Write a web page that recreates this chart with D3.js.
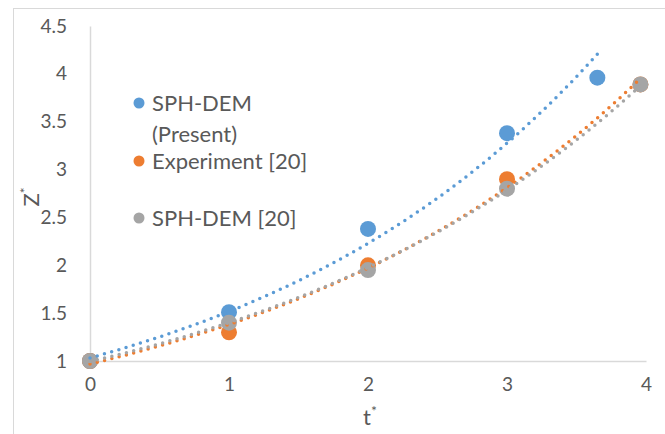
<!DOCTYPE html>
<html>
<head>
<meta charset="utf-8">
<script src="https://cdn.jsdelivr.net/npm/d3@7"></script>
<style>
  body { margin: 0; background: #fff; }
  text { font-family: Lato, "Open Sans", sans-serif; fill: #595959; }
</style>
</head>
<body>
<svg id="chart" width="665" height="434"></svg>
<script>
// series
const presentT = [0, 1, 2, 3, 3.65];
const presentZ = [1, 1.51, 2.38, 3.38, 3.96];
const experimentT = [0, 1, 2, 3, 3.96];
const experimentZ = [1, 1.3, 2.0, 2.9, 3.89];
const sphDem20T = [0, 1, 2, 3, 3.96];
const sphDem20Z = [1, 1.4, 1.95, 2.8, 3.89];

const xTicks = [0, 1, 2, 3, 4];
const yTicks = [1, 1.5, 2, 2.5, 3, 3.5, 4, 4.5];

const seriesNames = ["SPH-DEM (Present)", "Experiment [20]", "SPH-DEM [20]"];
const seriesColors = ["#5b9bd5", "#ed7d31", "#a5a5a5"];

let margin = {"left": 90, "top": 26, "bottom": 73, "right": 19};
let width = 665;
let height = 434;

let svg = d3.select("#chart");

// chart frame (runs off right and bottom)
svg.append("rect")
	.attr("x", 13.5).attr("y", 8.5)
	.attr("width", 700).attr("height", 500)
	.attr("fill", "none")
	.attr("stroke", "#d9d9d9");

let x = d3.scaleLinear()
	.domain([0, 4])
	.range([margin.left, width - margin.right]);
let y = d3.scaleLinear()
	.domain([1, 4.5])
	.range([height - margin.bottom, margin.top]);

let series = [
	{"name": seriesNames[0], "color": seriesColors[0], "points": presentT.map((t, i) => ({"t": t, "z": presentZ[i]}))},
	{"name": seriesNames[1], "color": seriesColors[1], "points": experimentT.map((t, i) => ({"t": t, "z": experimentZ[i]}))},
	{"name": seriesNames[2], "color": seriesColors[2], "points": sphDem20T.map((t, i) => ({"t": t, "z": sphDem20Z[i]}))}
];

// axes
svg.append("g")
	.attr("transform", `translate(${margin.left},0)`)
	.call(d3.axisLeft(y).tickValues(yTicks).tickSize(0).tickPadding(23).tickFormat(d3.format("")))
	.call(g => g.select(".domain").attr("stroke", "#d9d9d9").attr("stroke-width", 1.5))
	.call(g => g.selectAll("text").attr("font-size", 19).attr("fill", "#595959").attr("font-family", null));

svg.append("g")
	.attr("transform", `translate(0,${height - margin.bottom})`)
	.call(d3.axisBottom(x).tickValues(xTicks).tickSize(0).tickPadding(17).tickFormat(d3.format("")))
	.call(g => g.select(".domain").attr("stroke", "#d9d9d9").attr("stroke-width", 1.5))
	.call(g => g.selectAll("text").attr("font-size", 19).attr("fill", "#595959").attr("font-family", null));

// exponential trendline, least squares on ln(z)
function expFit(points){
	let mx = d3.mean(points, d => d.t);
	let my = d3.mean(points, d => Math.log(d.z));
	let sxy = d3.sum(points, d => (d.t - mx) * (Math.log(d.z) - my));
	let sxx = d3.sum(points, d => (d.t - mx) * (d.t - mx));
	let b = sxy / sxx;
	let a = Math.exp(my - b * mx);
	return t => a * Math.exp(b * t);
}

// markers
let markers = svg.append("g");
series.forEach(function(s){
	markers.append("g").selectAll("circle")
		.data(s.points)
		.join("circle")
		.attr("cx", d => x(d.t))
		.attr("cy", d => y(d.z))
		.attr("r", 8)
		.attr("fill", s.color);
});

// trendlines on top
const line = d3.line()
	.x(d => x(d.t))
	.y(d => y(d.z));

series.forEach(function(s){
	let f = expFit(s.points);
	let tMax = d3.max(s.points, d => d.t);
	let curve = d3.range(0, 101).map(i => {
		let t = tMax * i / 100;
		return {"t": t, "z": f(t)};
	});
	svg.append("path")
		.attr("d", line(curve))
		.attr("fill", "none")
		.attr("stroke", s.color)
		.attr("stroke-width", 3.5)
		.attr("stroke-linecap", "round")
		.attr("stroke-dasharray", "0,7.5");
});

// legend
let legendRows = [
	{"lines": ["SPH-DEM", "(Present)"], "y": 103, "color": seriesColors[0]},
	{"lines": ["Experiment [20]"], "y": 161, "color": seriesColors[1]},
	{"lines": ["SPH-DEM [20]"], "y": 218, "color": seriesColors[2]}
];
let legend = svg.append("g").attr("class", "legend");
legendRows.forEach(function(r){
	legend.append("circle")
		.attr("cx", 139).attr("cy", r.y).attr("r", 5.5)
		.attr("fill", r.color);
	let txt = legend.append("text")
		.attr("x", 152).attr("y", r.y + 8)
		.attr("font-size", 22);
	r.lines.forEach(function(l, i){
		txt.append("tspan").attr("x", 152).attr("dy", i === 0 ? 0 : 31).text(l);
	});
});

// axis titles
let zTitle = svg.append("text")
	.attr("transform", "translate(39,197) rotate(-90)")
	.attr("text-anchor", "middle")
	.attr("font-size", 22);
zTitle.append("tspan").text("Z");
zTitle.append("tspan").attr("dy", -9).attr("font-size", 14).text("*");

let tTitle = svg.append("text")
	.attr("x", 370).attr("y", 425)
	.attr("text-anchor", "middle")
	.attr("font-size", 22);
tTitle.append("tspan").text("t");
tTitle.append("tspan").attr("dy", -9).attr("font-size", 14).text("*");
</script>
</body>
</html>
